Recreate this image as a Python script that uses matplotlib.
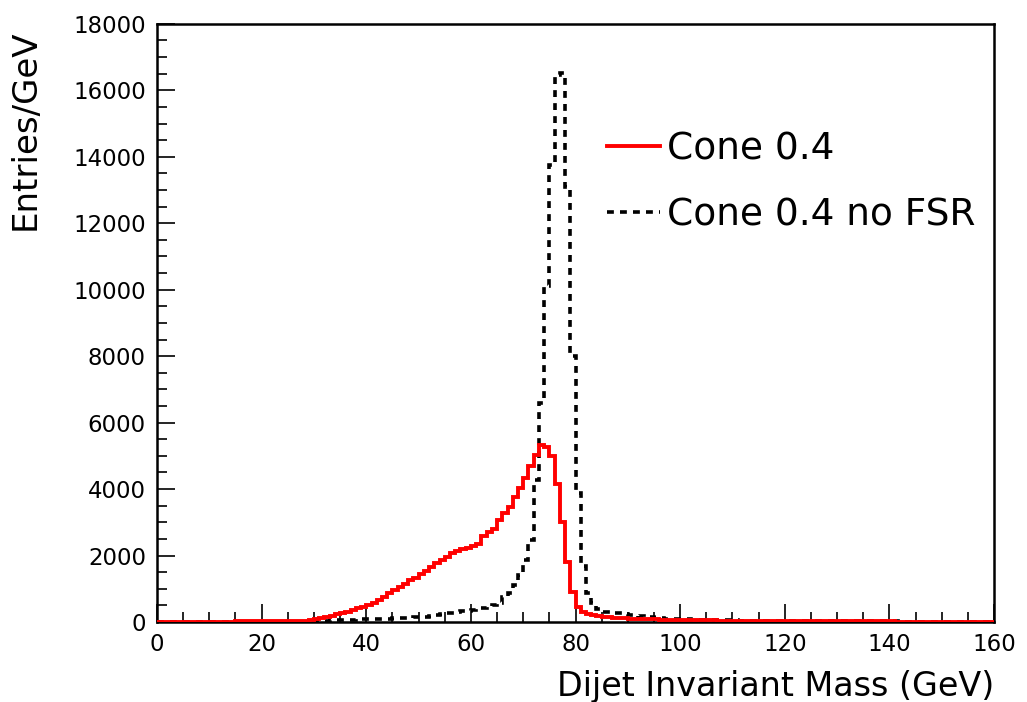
import numpy as np
import matplotlib.pyplot as plt

# 1 GeV bins from 0 to 160
edges = np.arange(0, 161, 1)

cone04 = [
    5, 5, 5, 5, 5, 5, 10, 10, 10, 10,
    10, 10, 10, 10, 10, 15, 15, 15, 15, 20,
    20, 20, 20, 25, 25, 30, 30, 35, 40, 60,
    90, 120, 150, 190, 230, 270, 310, 360, 410, 460,
    520, 580, 650, 760, 880, 970, 1050, 1130, 1250, 1330,
    1430, 1530, 1650, 1780, 1860, 1950, 2080, 2150, 2190, 2230,
    2280, 2350, 2600, 2700, 2800, 3080, 3280, 3470, 3770, 4030,
    4330, 4680, 5030, 5330, 5270, 5000, 4150, 3020, 1800, 900,
    460, 310, 240, 200, 170, 150, 140, 130, 120, 110,
    100, 95, 90, 85, 80, 75, 70, 65, 60, 60,
    55, 55, 50, 50, 45, 45, 45, 40, 40, 40,
    35, 35, 35, 35, 30, 30, 30, 30, 30, 25,
    25, 25, 25, 25, 20, 20, 20, 20, 20, 20,
    20, 20, 15, 15, 15, 15, 15, 15, 15, 15,
    15, 10, 10, 10, 10, 10, 10, 10, 10, 10,
    10, 10, 10, 10, 10, 10, 10, 10, 10, 10,
]

cone04_nofsr = [
    0, 0, 0, 0, 0, 0, 0, 0, 0, 0,
    0, 0, 0, 0, 0, 0, 0, 0, 0, 0,
    0, 0, 0, 0, 0, 5, 5, 10, 10, 15,
    20, 30, 40, 50, 55, 60, 65, 70, 75, 80,
    85, 90, 95, 100, 100, 105, 110, 120, 130, 140,
    150, 160, 180, 220, 250, 260, 280, 300, 320, 340,
    360, 390, 420, 460, 500, 580, 740, 880, 1110, 1410,
    1870, 2470, 4270, 6580, 10100, 13760, 16450, 16520, 13100, 7990,
    3870, 1670, 860, 560, 380, 310, 290, 270, 260, 250,
    220, 200, 180, 160, 140, 120, 110, 100, 95, 90,
    80, 75, 70, 65, 60, 55, 55, 50, 50, 45,
    45, 40, 40, 40, 35, 35, 35, 30, 30, 30,
    30, 25, 25, 25, 25, 20, 20, 20, 20, 20,
    15, 15, 15, 15, 15, 15, 15, 15, 15, 15,
    15, 15, 10, 10, 10, 10, 10, 10, 10, 10,
    10, 10, 10, 10, 10, 10, 10, 10, 10, 10,
]

fig = plt.figure(figsize=(10.27, 7.02), dpi=100)
ax = fig.add_axes([0.1529, 0.114, 0.815, 0.852])

ax.stairs(cone04_nofsr, edges, color='black', lw=2.6, linestyle=(0, (1.9, 1.7)),
          label='Cone 0.4 no FSR', zorder=2)
ax.stairs(cone04, edges, color='#ff0000', lw=2.8, label='Cone 0.4', zorder=3)

ax.set_xlim(0, 160)
ax.set_ylim(0, 18000)
ax.set_xticks(np.arange(0, 161, 20))
ax.set_xticks(np.arange(0, 161, 5), minor=True)
ax.set_yticks(np.arange(0, 18001, 2000))
ax.set_yticks(np.arange(0, 18001, 500), minor=True)
ax.tick_params(which='both', direction='in', top=False, right=False,
               labelsize=16.5, width=1.2)
ax.tick_params(which='major', length=13, pad=8)
ax.tick_params(which='minor', length=7)
for s in ax.spines.values():
    s.set_linewidth(1.8)

ax.set_xlabel('Dijet Invariant Mass (GeV)', fontsize=24, loc='right', labelpad=10)
ax.set_ylabel('Entries/GeV', fontsize=24.5, loc='top')
ax.yaxis.set_label_coords(-0.138, 0.99)

handles, labels = ax.get_legend_handles_labels()
ax.legend(handles[::-1], labels[::-1], loc='upper left', bbox_to_anchor=(0.5376, 0.82),
          frameon=False, fontsize=27, handlelength=1.41, handletextpad=0.19,
          labelspacing=0.8, borderpad=0, borderaxespad=0)

fig.savefig('out.png', dpi=100)
